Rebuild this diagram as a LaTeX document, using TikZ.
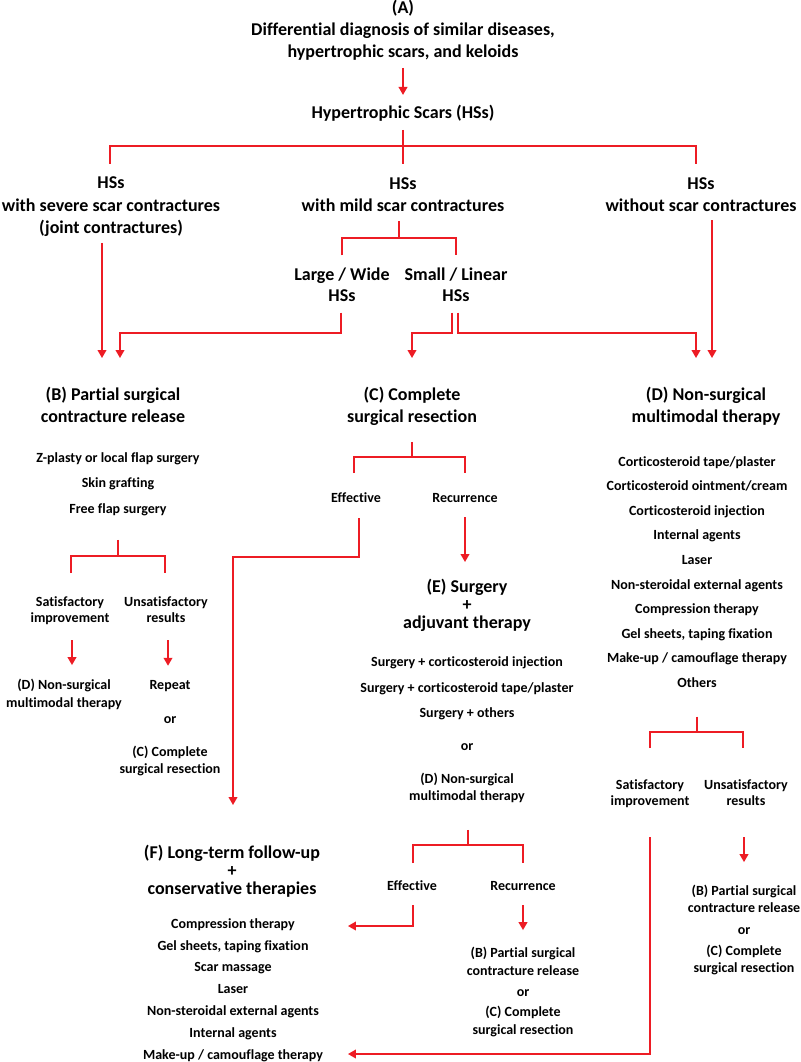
\documentclass[tikz,border=0pt]{standalone}
\usepackage{fontspec}
\setmainfont{Carlito}[Ligatures=CommonOff]
\usetikzlibrary{arrows.meta,calc}
\definecolor{lred}{RGB}{237,28,36}
\newcommand\myfs[2]{\bfseries\fontsize{#1}{#2}\selectfont}
\newcommand\mystrut{\rule[-0.25em]{0pt}{1em}}
\tikzset{
  tx/.style={inner sep=0pt, outer sep=0pt, align=center, text=black,
    execute at begin node=\mystrut, execute at end node=\mystrut},
  ln/.style={draw=lred, line width=2.3pt},
  arr/.style={ln, -{Triangle[length=8pt,width=8.5pt]}},
}
\begin{document}
\begin{tikzpicture}[x=1pt,y=-1pt]
\useasboundingbox (0,0) rectangle (800,1062);
% ---- text nodes ----
\node[tx, font=\myfs{18}{22}] (A) at (403,31.4) {(A)\\Differential diagnosis of similar diseases,\\hypertrophic scars, and keloids};
\node[tx, font=\myfs{18}{22}] (hs) at (403,114.4) {Hypertrophic Scars (HSs)};
\node[tx, font=\myfs{18}{22.5}] (sev) at (111,207.7) {HSs\\with severe scar contractures\\(joint contractures)};
\node[tx, font=\myfs{18}{22}] (mild) at (403,196.4) {HSs\\with mild scar contractures};
\node[tx, font=\myfs{18}{22}] (wo) at (701,196.4) {HSs\\without scar contractures};
\node[tx, font=\myfs{18}{21}] (lw) at (342,286.9) {Large / Wide\\HSs};
\node[tx, font=\myfs{18}{21}] (sl) at (456,286.9) {Small / Linear\\HSs};
\node[tx, font=\myfs{18}{22}] (B) at (113,407.4) {(B) Partial surgical\\contracture release};
\node[tx, font=\myfs{18}{22}] (C) at (412,407.4) {(C) Complete\\surgical resection};
\node[tx, font=\myfs{18}{22}] (D) at (706,407.4) {(D) Non-surgical\\multimodal therapy};
\node[tx, font=\myfs{14}{25.5}] (Blist) at (118,484.6) {Z-plasty or local flap surgery\\Skin grafting\\Free flap surgery};
\node[tx, font=\myfs{14}{16.5}] (bsat) at (70,611.1) {Satisfactory\\improvement};
\node[tx, font=\myfs{14}{16.5}] (bun) at (166,611.1) {Unsatisfactory\\results};
\node[tx, font=\myfs{14}{18}] (bD) at (64,695.1) {(D) Non-surgical\\multimodal therapy};
\node[tx, font=\myfs{14}{17}] (brep) at (170,729.1) {Repeat\\[17pt]or\\[16pt](C) Complete\\surgical resection};
\node[tx, font=\myfs{14}{17}] (Ceff) at (356,499.1) {Effective};
\node[tx, font=\myfs{14}{17}] (Crec) at (465,499.1) {Recurrence};
\node[tx, font=\myfs{18}{18}] (E) at (467,606.4) {(E) Surgery\\+\\adjuvant therapy};
\node[tx, font=\myfs{14}{17}] (Elist) at (467,730.1) {Surgery + corticosteroid injection\\[9pt]Surgery + corticosteroid tape/plaster\\[8pt]Surgery + others\\[16pt]or\\[16pt](D) Non-surgical\\multimodal therapy};
\node[tx, font=\myfs{14}{24.55}] (Dlist) at (697,573.6) {Corticosteroid tape/plaster\\Corticosteroid ointment/cream\\Corticosteroid injection\\Internal agents\\Laser\\Non-steroidal external agents\\Compression therapy\\Gel sheets, taping fixation\\Make-up / camouflage therapy\\Others};
\node[tx, font=\myfs{14}{16.5}] (dsat) at (650,794.1) {Satisfactory\\improvement};
\node[tx, font=\myfs{14}{16.5}] (dun) at (746,794.1) {Unsatisfactory\\results};
\node[tx, font=\myfs{14}{17}] (dres) at (744,930.6) {(B) Partial surgical\\contracture release\\[5pt]or\\[4pt](C) Complete\\surgical resection};
\node[tx, font=\myfs{14}{17}] (Eeff) at (412,887.1) {Effective};
\node[tx, font=\myfs{14}{17}] (Erec) at (523,887.1) {Recurrence};
\node[tx, font=\myfs{14}{18}] (Eres) at (523,992.6) {(B) Partial surgical\\contracture release\\[3pt]or\\[2pt](C) Complete\\surgical resection};
\node[tx, font=\myfs{18}{18}] (F) at (232,872.4) {(F) Long-term follow-up\\+\\conservative therapies};
\node[tx, font=\myfs{14}{21.83}] (Flist) at (233,990.6) {Compression therapy\\Gel sheets, taping fixation\\Scar massage\\Laser\\Non-steroidal external agents\\Internal agents\\Make-up / camouflage therapy};
% ---- junction coordinates ----
\coordinate (j1) at (403,146);
\coordinate (j2) at (399,238);
\coordinate (r1) at (400,333);
\coordinate (j3) at (412,457);
\coordinate (r2) at (300,557);
\coordinate (j4) at (118,556);
\coordinate (j5) at (697,732);
\coordinate (j6) at (468,845);
\coordinate (r3) at (380,926);
\coordinate (r4) at (500,1054);
% ---- connectors ----
\draw[arr, shorten <=5.6pt, shorten >=10.4pt] (A.south) -- (A.south |- hs.north);
\draw[ln, shorten <=6.6pt, shorten >=13.4pt] (hs.south) -- (hs.south |- mild.north);
\draw[ln, shorten <=13.4pt, shorten >=13.4pt] ([xshift=-1pt]sev.north) |- (j1) -| ([xshift=-5pt]wo.north);
\draw[arr, shorten <=4.6pt, shorten >=29.4pt] ([xshift=-9pt]sev.south) -- ([xshift=-9pt]sev.south |- B.north);
\draw[ln, shorten <=5.6pt] ([xshift=-4pt]mild.south) -- ([xshift=-4pt]mild.south |- j2);
\draw[ln, shorten <=12.4pt, shorten >=12.4pt] (lw.north) |- (j2) -| (sl.north);
\draw[arr, shorten <=6.6pt, shorten >=29.4pt] ([xshift=-1pt]lw.south) -- ([xshift=-1pt]lw.south |- r1) -| ([xshift=7pt]B.north);
\draw[arr, shorten <=6.6pt, shorten >=29.4pt] ([xshift=-4pt]sl.south) -- ([xshift=-4pt]sl.south |- r1) -| (C.north);
\draw[arr, shorten <=6.6pt, shorten >=29.4pt] ([xshift=2pt]sl.south) -- ([xshift=2pt]sl.south |- r1) -| ([xshift=-10pt]D.north);
\draw[arr, shorten <=4.6pt, shorten >=29.4pt] ([xshift=11pt]wo.south) -- ([xshift=11pt]wo.south |- D.north);
% C
\draw[ln, shorten <=14.6pt] (C.south) -- (C.south |- j3);
\draw[ln, shorten <=19pt, shorten >=19pt] ([xshift=-2pt]Ceff.north) |- (j3) -| (Crec.north);
\draw[arr, shorten <=12pt, shorten >=40.4pt] ([xshift=3pt]Ceff.south) -- ([xshift=3pt]Ceff.south |- r2) -| ([xshift=1pt]F.north);
\draw[arr, shorten <=11pt, shorten >=17.4pt] (Crec.south) -- (Crec.south |- E.north);
% B
\draw[ln, shorten <=23pt] (Blist.south) -- (Blist.south |- j4);
\draw[ln, shorten <=23pt, shorten >=23pt] ([xshift=1pt]bsat.north) |- (j4) -| ([xshift=-1pt]bun.north);
\draw[arr, shorten <=14pt, shorten >=14pt] ([xshift=2pt]bsat.south) -- ([xshift=2pt]bsat.south |- bD.north);
\draw[arr, shorten <=14pt, shorten >=15pt] ([xshift=2pt]bun.south) -- ([xshift=2pt]bun.south |- brep.north);
% D
\draw[ln, shorten <=26pt] (Dlist.south) -- (Dlist.south |- j5);
\draw[ln, shorten <=31pt, shorten >=31pt] (dsat.north) |- (j5) -| ([xshift=-3pt]dun.north);
\draw[arr, shorten <=28pt, shorten >=25pt] (dsat.south) -- (dsat.south |- r4) -- (r4 -| Flist.east);
\draw[arr, shorten <=28pt, shorten >=23pt] ([xshift=-2pt]dun.south) -- ([xshift=-2pt]dun.south |- dres.north);
% E
\draw[ln, shorten <=26pt] ([xshift=1pt]Elist.south) -- ([xshift=1pt]Elist.south |- j6);
\draw[ln, shorten <=17pt, shorten >=17pt] ([xshift=1pt]Eeff.north) |- (j6) -| (Erec.north);
\draw[arr, shorten <=11pt, shorten >=25pt] ([xshift=1pt]Eeff.south) -- ([xshift=1pt]Eeff.south |- r3) -- (r3 -| Flist.east);
\draw[arr, shorten <=11pt, shorten >=17pt] (Erec.south) -- (Erec.south |- Eres.north);
\end{tikzpicture}
\end{document}
